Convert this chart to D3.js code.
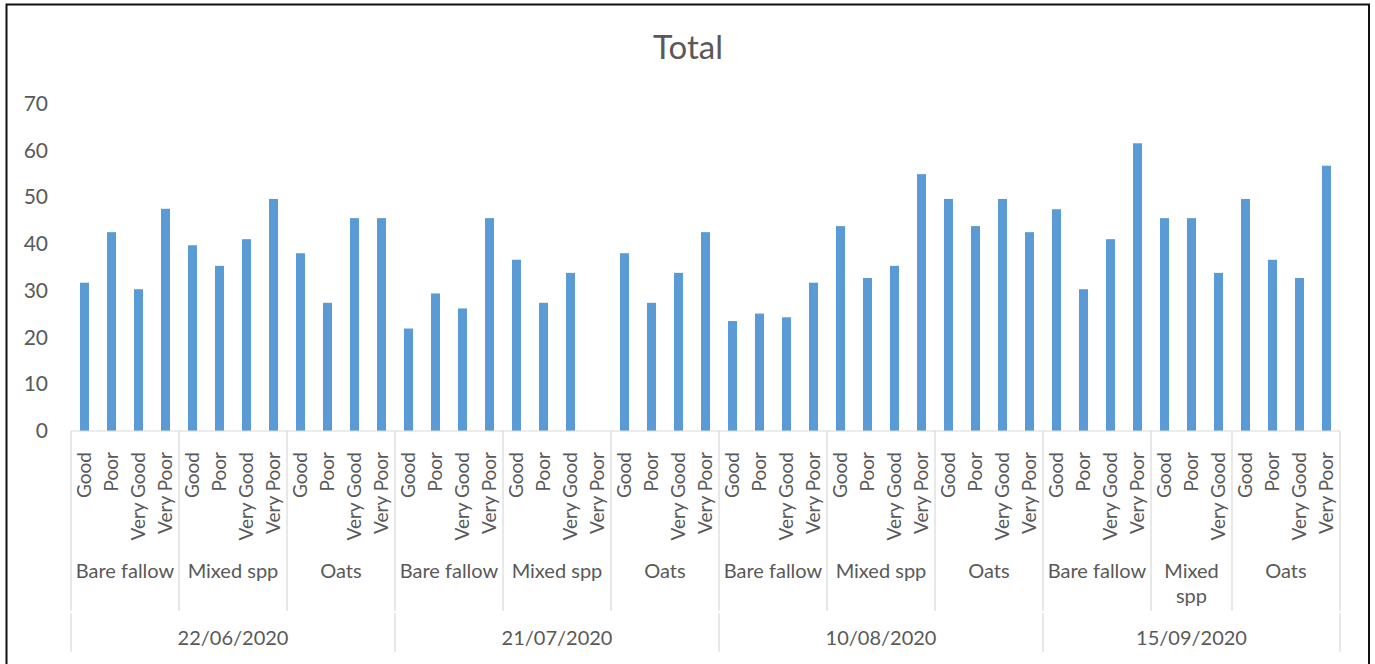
<!DOCTYPE html>
<html>
<head>
<meta charset="utf-8">
<script src="https://cdn.jsdelivr.net/npm/d3@7"></script>
<style>
  html, body { margin: 0; padding: 0; background: #fff; }
  svg { display: block; }
  text { font-family: "Lato", "Open Sans", sans-serif; fill: #595959; }
</style>
</head>
<body>
<svg id="chart" width="1375" height="664"></svg>
<script>
// Sampling dates (top level of the category axis)
const dates = ["22/06/2020", "21/07/2020", "10/08/2020", "15/09/2020"];
// Treatments within each date
const treatments = ["Bare fallow", "Mixed spp", "Oats"];
// Plant condition classes within each treatment
const conditions = ["Good", "Poor", "Very Good", "Very Poor"];
// How many condition classes were recorded per treatment, for each date
const conditionCounts = [
  [4, 4, 4],
  [4, 4, 4],
  [4, 4, 4],
  [4, 3, 4]
];
// Totals per date, in treatment × condition order (null = no value recorded)
const totals_22_06 = [31.7, 42.5, 30.3, 47.5, 39.7, 35.3, 41.0, 49.6, 38.0, 27.4, 45.5, 45.5];
const totals_21_07 = [21.9, 29.4, 26.2, 45.5, 36.6, 27.4, 33.8, null, 38.0, 27.4, 33.8, 42.5];
const totals_10_08 = [23.5, 25.1, 24.3, 31.7, 43.8, 32.7, 35.3, 54.9, 49.6, 43.8, 49.6, 42.5];
const totals_15_09 = [47.4, 30.3, 41.0, 61.5, 45.5, 45.5, 33.8, 49.6, 36.6, 32.7, 56.7];
const yTicks = [0, 10, 20, 30, 40, 50, 60, 70];

const totalsByDate = [totals_22_06, totals_21_07, totals_10_08, totals_15_09];

// Flatten into one row per category slot
const rows = [];
dates.forEach((date, di) => {
  let k = 0;
  treatments.forEach((tr, ti) => {
    for (let ci = 0; ci < conditionCounts[di][ti]; ci++) {
      rows.push({ date, di, treatment: tr, ti, condition: conditions[ci], value: totalsByDate[di][k++] });
    }
  });
});
rows.forEach((r, i) => r.i = i);

const svg = d3.select("#chart");
const left = 71, right = 1340, baseY = 431, topY = 103.5;
const lineColor = "#d9d9d9";

// Chart frame
svg.append("rect")
  .attr("x", 6.5).attr("y", 4.5)
  .attr("width", 1362.5).attr("height", 700)
  .attr("fill", "none").attr("stroke", "#111").attr("stroke-width", 2);

// Title
svg.append("text")
  .attr("x", 688).attr("y", 59)
  .attr("text-anchor", "middle")
  .style("font-size", "33px")
  .text("Total");

const slot = d3.scaleBand().domain(rows.map(r => r.i)).range([left, right]);
const x = d3.scaleBand().domain(rows.map(r => r.i)).range([left, right])
  .paddingInner(2 / 3).paddingOuter(1 / 3);
const y = d3.scaleLinear().domain([0, 70]).range([baseY, topY]);

// Value axis
const yAxis = svg.append("g")
  .attr("transform", `translate(48,0)`)
  .call(d3.axisLeft(y).tickValues(yTicks).tickSize(0).tickPadding(0));
yAxis.select(".domain").remove();
yAxis.selectAll("text").style("font-size", "21px").style("font-family", null).attr("fill", "#595959");

// Bars
svg.append("g").selectAll("rect")
  .data(rows.filter(r => r.value != null))
  .join("rect")
  .attr("x", d => x(d.i))
  .attr("width", x.bandwidth())
  .attr("y", d => y(d.value))
  .attr("height", d => baseY - y(d.value))
  .attr("fill", "#5b9bd5");

// Category axis line
svg.append("line")
  .attr("x1", left).attr("x2", right)
  .attr("y1", baseY).attr("y2", baseY)
  .attr("stroke", lineColor).attr("stroke-width", 1.2);

// Condition labels (rotated)
const xAxis = svg.append("g")
  .attr("transform", `translate(0,${baseY})`)
  .call(d3.axisBottom(slot).tickSize(0).tickFormat(i => rows[i].condition));
xAxis.select(".domain").remove();
xAxis.selectAll("text")
  .attr("transform", "rotate(-90)")
  .attr("x", -21).attr("y", 0).attr("dy", "0.36em")
  .attr("text-anchor", "end")
  .style("font-size", "19px").style("font-family", null).attr("fill", "#595959");

// Treatment groups and date groups
const treatmentGroups = d3.groups(rows, r => r.di + "|" + r.ti).map(([, g]) => g);
const dateGroups = d3.groups(rows, r => r.di).map(([, g]) => g);
const groupStart = g => slot(g[0].i);
const groupEnd = g => slot(g[g.length - 1].i) + slot.step();

const seps = svg.append("g").attr("stroke", lineColor).attr("stroke-width", 1.2);
const treatmentEdges = Array.from(new Set(treatmentGroups.flatMap(g => [groupStart(g), groupEnd(g)])));
seps.selectAll("line.t").data(treatmentEdges).join("line")
  .attr("class", "t")
  .attr("x1", d => d).attr("x2", d => d)
  .attr("y1", baseY).attr("y2", 611);
const dateEdges = Array.from(new Set(dateGroups.flatMap(g => [groupStart(g), groupEnd(g)])));
seps.selectAll("line.d").data(dateEdges).join("line")
  .attr("class", "d")
  .attr("x1", d => d).attr("x2", d => d)
  .attr("y1", 613).attr("y2", 652);

// Treatment labels, wrapped onto two lines where the group is too narrow
const tLabels = svg.append("g").selectAll("text")
  .data(treatmentGroups)
  .join("text")
  .attr("x", g => (groupStart(g) + groupEnd(g)) / 2)
  .attr("y", 578)
  .attr("text-anchor", "middle")
  .style("font-size", "20px")
  .text(g => g[0].treatment);
tLabels.each(function (g) {
  const el = d3.select(this);
  const avail = groupEnd(g) - groupStart(g) - 6;
  if (this.getComputedTextLength() > avail) {
    const words = g[0].treatment.split(" ");
    const cx = (groupStart(g) + groupEnd(g)) / 2;
    el.text(null);
    words.forEach((w, k) => {
      el.append("tspan").attr("x", cx).attr("dy", k === 0 ? 0 : 25).text(w);
    });
  }
});

// Date labels
svg.append("g").selectAll("text")
  .data(dateGroups)
  .join("text")
  .attr("x", g => (groupStart(g) + groupEnd(g)) / 2)
  .attr("y", 645)
  .attr("text-anchor", "middle")
  .style("font-size", "20px")
  .text(g => g[0].date);
</script>
</body>
</html>
